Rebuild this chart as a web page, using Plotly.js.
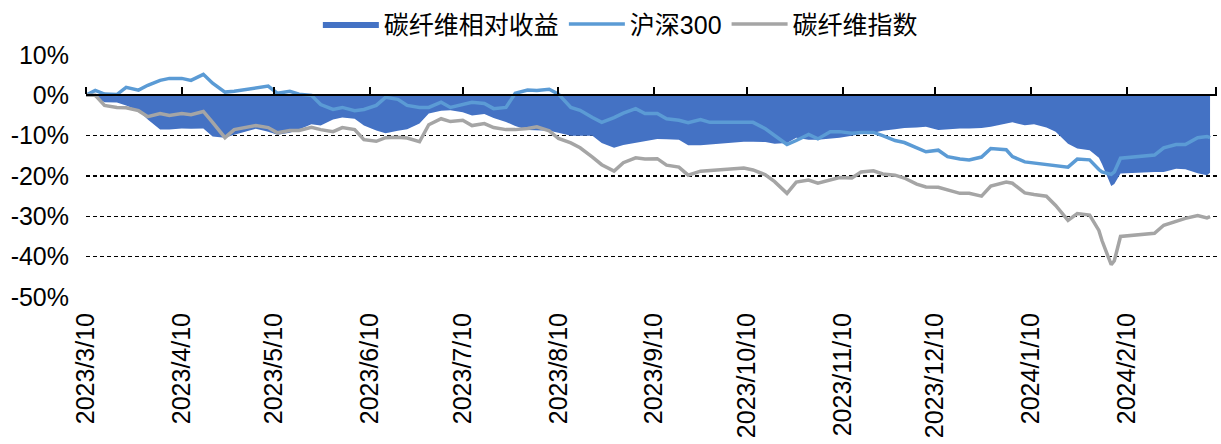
<!DOCTYPE html>
<html>
<head>
<meta charset="utf-8">
<script src="https://cdn.plot.ly/plotly-3.0.1.min.js"></script>
<style>html,body{margin:0;padding:0;background:#fff;}#chart{width:1221px;height:444px;}</style>
</head>
<body>
<div id="chart"></div>
<script>
const dates = [
'2023-03-10','2023-03-13','2023-03-16','2023-03-20','2023-03-23','2023-03-27','2023-03-30',
'2023-04-03','2023-04-06','2023-04-10','2023-04-13','2023-04-17','2023-04-20','2023-04-24','2023-04-27',
'2023-05-04','2023-05-08','2023-05-11','2023-05-15','2023-05-18','2023-05-22','2023-05-25','2023-05-29',
'2023-06-01','2023-06-05','2023-06-08','2023-06-12','2023-06-15','2023-06-19','2023-06-22','2023-06-26','2023-06-29',
'2023-07-03','2023-07-06','2023-07-10','2023-07-13','2023-07-17','2023-07-20','2023-07-24','2023-07-27','2023-07-31',
'2023-08-03','2023-08-07','2023-08-10','2023-08-14','2023-08-17','2023-08-21','2023-08-24','2023-08-28','2023-08-31',
'2023-09-04','2023-09-07','2023-09-11','2023-09-14','2023-09-18','2023-09-21','2023-09-25','2023-09-28',
'2023-10-09','2023-10-12','2023-10-16','2023-10-19','2023-10-23','2023-10-26','2023-10-30',
'2023-11-02','2023-11-06','2023-11-09','2023-11-13','2023-11-16','2023-11-20','2023-11-23','2023-11-27','2023-11-30',
'2023-12-04','2023-12-07','2023-12-11','2023-12-14','2023-12-18','2023-12-21','2023-12-25','2023-12-28',
'2024-01-02','2024-01-04','2024-01-08','2024-01-11','2024-01-15','2024-01-18','2024-01-22','2024-01-25','2024-01-29',
'2024-02-01','2024-02-02','2024-02-05','2024-02-06','2024-02-08','2024-02-19','2024-02-22','2024-02-26','2024-02-29',
'2024-03-04','2024-03-07','2024-03-08'
];

// 沪深300 cumulative return (%)
const hs300 = [
0, 1.2, 0.3, 0.2, 2, 1.3, 2.5,
3.7, 4.2, 4.2, 3.7, 5.2, 3, 0.8, 1.0,
1.8, 2.3, 0.5, 1, 0.3, 0, -2.3, -3.5,
-3, -3.8, -3.5, -2.5, -0.5, -1, -2.5, -3, -3,
-1.7, -3, -2.3, -1.7, -2, -3.3, -3, 0.5, 1.3,
1.2, 1.5, 0.3, -3, -3.7, -5.5, -6.7, -5.5, -4.4,
-3.3, -4.5, -4.5, -5.8, -6.2, -6.8, -6, -6.7,
-6.7, -6.7, -8.3, -10, -12.2, -11.2, -9.7,
-10.8, -9, -9, -9.4, -9.2, -9.2, -10, -11.2, -11.7,
-13, -14, -13.6, -15.2, -15.8, -16, -15.3, -13.2,
-13.5, -15.2, -16.5, -16.8, -17.3, -17.6, -17.8, -15.8, -16,
-18.4, -19, -19.6, -19, -15.6, -14.8, -13, -12.2, -12.2,
-10.5, -10.2, -10.5
];

// 碳纤维指数 cumulative return (%)
const cfIndex = [
0, 0, -2.5, -3, -3.1, -3.8, -5.3,
-4.5, -5, -4.5, -4.8, -4, -6.7, -10.5, -8.5,
-7.5, -8, -9.3, -8.7, -8.7, -7.9, -8.5, -9,
-8, -8.5, -11, -11.4, -10.5, -10.4, -10.6, -11.5, -7.3,
-5.8, -6.5, -6.2, -7.5, -7, -8, -8.5, -8.5, -8.2,
-7.8, -8.8, -10.7, -11.8, -13, -15.3, -17.2, -18.8, -16.7,
-15.5, -15.8, -15.7, -17.3, -17.8, -19.8, -18.8, -18.6,
-18, -18.5, -19.7, -21.4, -24.3, -21.5, -21,
-21.8, -21, -20.4, -20.5, -19, -18.7, -19.5, -19.8, -20.5,
-22, -22.7, -22.8, -23.5, -24.3, -24.3, -25, -22.5,
-21.5, -21.8, -24.2, -24.6, -25, -27.3, -31, -29.3, -29.7,
-33.5, -36, -42, -41, -35, -34.2, -32.2, -31.2, -30.5,
-29.8, -30.4, -30.1
];

// 碳纤维相对收益 (%)
const relative = [
0, -0.5, -1.7, -1.8, -2.5, -3.8, -6,
-8.5, -8.5, -8.2, -8.3, -8.2, -10.2, -10.5, -9.8,
-8.3, -9, -9.8, -9.3, -8.5, -7.2, -7.5, -6,
-5.5, -5.8, -7.5, -8.7, -9.4, -8.8, -8.4, -7, -4.5,
-3.8, -3.7, -4.2, -5, -4.6, -5.6, -6.6, -7.6, -8.6,
-8.7, -8.8, -9.3, -10, -10, -10, -11.8, -13, -12.3,
-11.7, -11.3, -10.8, -10.9, -11, -12.4, -12.4, -12.2,
-11.5, -11.5, -11.6, -12, -11.8, -10.5, -11,
-11, -10.8, -10.5, -10, -9.5, -9.3, -8.8, -8.4, -8.1,
-8, -7.8, -8.6, -8.4, -8.2, -8.2, -8.1, -7.8,
-7, -6.7, -7.4, -7.2, -8, -9, -12, -13.2, -13.6,
-15.5, -17, -22.5, -22, -19.4, -19, -19, -18.2, -18.3,
-19.3, -19.8, -19.2
];

const seriesNames = ['碳纤维相对收益', '沪深300', '碳纤维指数'];
const tickDates = ['2023-03-10','2023-04-10','2023-05-10','2023-06-10','2023-07-10','2023-08-10',
  '2023-09-10','2023-10-10','2023-11-10','2023-12-10','2024-01-10','2024-02-10'];
const tickLabels = ['2023/3/10','2023/4/10','2023/5/10','2023/6/10','2023/7/10','2023/8/10',
  '2023/9/10','2023/10/10','2023/11/10','2023/12/10','2024/1/10','2024/2/10'];
const yTicks = [10, 0, -10, -20, -30, -40, -50];
const yTickLabels = ['10%', '0%', '-10%', '-20%', '-30%', '-40%', '-50%'];
const xRange = ['2023-03-10', '2024-03-10 06:00'];
const yRange = [-50, 10];

const FONT = '"Liberation Sans", Arial, "Noto Sans CJK SC", sans-serif';

const traces = [
  {
    x: dates, y: relative, name: seriesNames[0], type: 'scatter', mode: 'lines',
    fill: 'tozeroy', fillcolor: '#4472C4', line: {color: '#4472C4', width: 0}
  },
  {
    x: dates, y: hs300, name: seriesNames[1], type: 'scatter', mode: 'lines',
    line: {color: '#5B9BD5', width: 3.5}
  },
  {
    x: dates, y: cfIndex, name: seriesNames[2], type: 'scatter', mode: 'lines',
    xaxis: 'x2', yaxis: 'y',
    line: {color: '#A5A5A5', width: 3.5}
  }
];

const zeroPos = (0 - yRange[0]) / (yRange[1] - yRange[0]);

const layout = {
  width: 1221, height: 444,
  margin: {l: 86, r: 4, t: 55, b: 147, pad: 0, autoexpand: false},
  paper_bgcolor: '#fff', plot_bgcolor: '#fff',
  font: {family: FONT, color: '#000'},
  showlegend: true,
  legend: {
    orientation: 'h', x: 0.205, xanchor: 'left', y: 1.222, yanchor: 'top',
    font: {size: 25, family: FONT, color: '#000'},
    traceorder: 'normal', itemwidth: 56, bgcolor: 'rgba(0,0,0,0)'
  },
  xaxis: {
    type: 'date', range: xRange,
    tickvals: tickDates, ticktext: tickLabels, tickangle: -90,
    ticks: '', showline: false, showgrid: false, zeroline: false,
    tickfont: {size: 25, family: FONT, color: '#000'},
    ticklabelstandoff: 10
  },
  xaxis2: {
    type: 'date', range: xRange, overlaying: 'x', matches: 'x',
    anchor: 'free', position: zeroPos, side: 'top',
    tickmode: 'linear', tick0: '2023-03-10', dtick: 'M1',
    ticks: 'outside', ticklen: 7, tickwidth: 2, tickcolor: '#000',
    showline: true, linewidth: 2, linecolor: '#000',
    showticklabels: false, showgrid: false, zeroline: false
  },
  yaxis: {
    range: yRange, tickvals: yTicks, ticktext: yTickLabels,
    showgrid: true, gridcolor: '#000', gridwidth: 1.3, griddash: '4px,3px',
    zeroline: false, showline: false, ticks: '',
    tickfont: {size: 25, family: FONT, color: '#000'},
    ticklabelstandoff: 16
  }
};

Plotly.newPlot('chart', traces, layout, {staticPlot: true, displayModeBar: false});
</script>
</body>
</html>
